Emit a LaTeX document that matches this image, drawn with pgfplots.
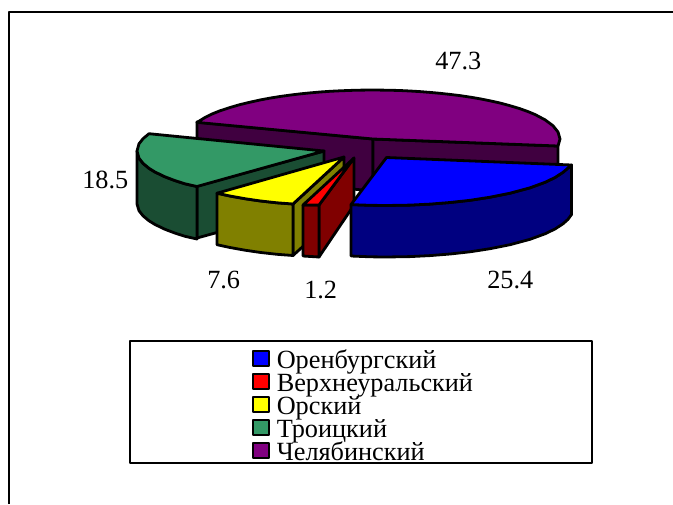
\documentclass[border=0pt]{standalone}
\usepackage{pgfplots}
\pgfplotsset{compat=1.18}
\usepackage{fontspec}
\setmainfont{Liberation Serif}
\definecolor{cB}{HTML}{0000FF}\definecolor{cBd}{HTML}{000080}
\definecolor{cR}{HTML}{FF0000}\definecolor{cRd}{HTML}{800000}
\definecolor{cY}{HTML}{FFFF00}\definecolor{cYd}{HTML}{808000}
\definecolor{cG}{HTML}{339966}\definecolor{cGd}{HTML}{1A4D33}
\definecolor{cP}{HTML}{800080}\definecolor{cPd}{HTML}{400040}
\tikzset{lab/.style={font=\fontsize{19.7pt}{20pt}\selectfont,inner sep=0pt,anchor=base west}}
\begin{document}
\begin{tikzpicture}
\begin{axis}[at={(0,0)},anchor=south west,scale only axis,width=504.75pt,height=378pt,
 xmin=0,xmax=673,ymin=0,ymax=504,y dir=reverse,hide axis,clip=false]
\pgfplotsset{every axis plot/.append style={draw=black,line width=2.1pt,line join=round,mark=none}}
% frame
\addplot[line width=1.5pt] coordinates {(9,504)(9,12)(673,12)};
% purple
\addplot[fill=cPd] coordinates {(197,122)(373,139)(373,191)(197,174)} --cycle;
\addplot[fill=cPd] coordinates {(373,139)(558,146)(558,198)(373,191)} --cycle;
\addplot[fill=cP] coordinates {(197,122.4)(205,117.5)(212,114)(220,110.8)(230,107.5)(240,104.6)(250,102.2)(260,100)(270,98.1)(280,96.5)(290,95.1)(300,93.9)(310,92.9)(320,92)(330,91.3)(340,90.8)(356,90.2)(373,90)(388,90.2)(400,90.5)(410,91)(420,91.6)(430,92.4)(440,93.3)(450,94.4)(460,95.6)(470,97.1)(480,98.8)(490,100.8)(500,103)(510,105.7)(520,108.7)(528,111.6)(535,114.5)(545,119.8)(553,125.7)(558,132)(560,139)(558,146)(373,139)} --cycle;
% green
\addplot[fill=cGd] coordinates {(197,186)(324,151)(324,203)(197,238)} --cycle;
\addplot[fill=cGd] coordinates {(137,151)(139,158.2)(143,163.3)(149,168.3)(155,172)(165,176.8)(175,180.6)(185,183.8)(197,186.5)(197,239)(185,236.3)(175,233.1)(165,229.3)(155,224.5)(149,220.8)(143,215.8)(139,210.7)(137,204)} --cycle;
\addplot[fill=cG] coordinates {(149,133.7)(324,151)(197,186.5)(185,183.8)(175,180.6)(165,176.8)(155,172)(149,168.3)(143,163.3)(139,158.2)(137,151)(139,143.8)(143,138.7)} --cycle;
% yellow
\addplot[fill=cYd] coordinates {(293,204)(344,157)(344,209)(293,255.5)} --cycle;
\addplot[fill=cYd] coordinates {(217,193.2)(230,196)(245,198.7)(260,200.9)(277,202.8)(293,204)(293,255.5)(277,254.3)(260,252.4)(245,250.2)(230,247.5)(217,244.7)} --cycle;
\addplot[fill=cY] coordinates {(217,193.2)(344,157)(293,204)(277,202.8)(260,200.9)(245,198.7)(230,196)} --cycle;
% red
\addplot[fill=cRd] coordinates {(319,205)(354,158)(354,205)(319,257)} --cycle;
\addplot[fill=cRd] coordinates {(303,205)(319,205)(319,257)(303,256)} --cycle;
\addplot[fill=cR] coordinates {(303,205)(354,158)(319,205)} --cycle;
% blue
\addplot[fill=cBd] coordinates {(351,204.6)(370,205.3)(386,205.5)(410,205.1)(430,204.1)(450,202.5)(470,200.3)(490,197.2)(510,193.2)(530,187.8)(545,182.3)(555,177.5)(563,172.3)(568,168)(571.5,165)(571.5,214.5)(568,219.3)(563,223.8)(555,229)(545,233.8)(530,239.3)(510,244.7)(490,248.7)(470,251.8)(450,254)(430,255.6)(410,256.6)(386,257)(370,256.8)(351,256)} --cycle;
\addplot[fill=cB] coordinates {(386.5,157.5)(571.5,165)(568,168)(563,172.3)(555,177.5)(545,182.3)(530,187.8)(510,193.2)(490,197.2)(470,200.3)(450,202.5)(430,204.1)(410,205.1)(386,205.5)(370,205.3)(351,204.6)} --cycle;
% legend
\addplot[fill=white,line width=1.5pt] coordinates {(130,341)(592,341)(592,463)(130,463)} --cycle;
\addplot[fill=cB,line width=1.5pt] coordinates {(253,351)(269,351)(269,366)(253,366)} --cycle;
\addplot[fill=cR,line width=1.5pt] coordinates {(253,374)(269,374)(269,389)(253,389)} --cycle;
\addplot[fill=cY,line width=1.5pt] coordinates {(253,397)(269,397)(269,412)(253,412)} --cycle;
\addplot[fill=cG,line width=1.5pt] coordinates {(253,420)(269,420)(269,435)(253,435)} --cycle;
\addplot[fill=cP,line width=1.5pt] coordinates {(253,443)(269,443)(269,458)(253,458)} --cycle;
\node[lab] at (axis cs:276.5,368) {Оренбургский};
\node[lab] at (axis cs:276.5,391) {Верхнеуральский};
\node[lab] at (axis cs:276.5,414) {Орский};
\node[lab] at (axis cs:276.5,437) {Троицкий};
\node[lab] at (axis cs:276.5,460) {Челябинский};
\node[lab] at (axis cs:435,69.5) {47.3};
\node[lab] at (axis cs:82,188) {18.5};
\node[lab] at (axis cs:207,288) {7.6};
\node[lab] at (axis cs:304,298) {1.2};
\node[lab] at (axis cs:487,288) {25.4};
\end{axis}
\pgfresetboundingbox
\useasboundingbox (0,0) rectangle (504.75pt,378pt);
\end{tikzpicture}
\end{document}
